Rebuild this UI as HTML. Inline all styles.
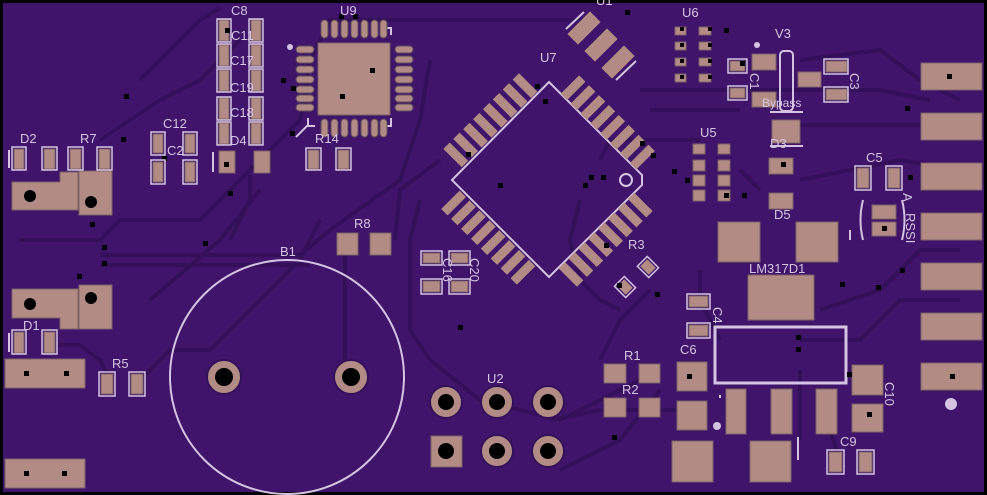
<!DOCTYPE html>
<html><head><meta charset="utf-8"><style>
html,body{margin:0;padding:0;background:#000}
svg{display:block}
text{font-family:"Liberation Sans",sans-serif;font-size:13px;fill:#d4c4e2}
</style></head><body>
<svg width="987" height="495" viewBox="0 0 987 495" xmlns="http://www.w3.org/2000/svg">
<rect x="0" y="0" width="987" height="495" fill="#000"/>
<rect x="3" y="3" width="981" height="489" fill="#40146a"/>
<g fill="none" stroke="#35105a" stroke-width="4">
<path d="M20 240 L100 240 L120 220 L200 220 L260 160 L300 120 L310 60 L330 20 L600 20"/>
<path d="M100 255 L300 255 L330 230 L400 180 L420 120 L430 60"/>
<path d="M100 265 L310 265"/>
<path d="M140 80 L200 20 L220 8"/>
<path d="M100 140 L160 100 L200 80 L240 40"/>
<path d="M150 300 L220 240 L260 190"/>
<path d="M58 345 L80 345 L100 360 L110 380"/>
<path d="M140 380 L170 350 L210 350 L300 260 L320 220"/>
<path d="M345 255 L345 370"/>
<path d="M420 200 L410 240 L410 330 L430 360 L480 400 L560 420 L600 400 L640 380"/>
<path d="M440 160 L400 190 L395 240"/>
<path d="M580 200 L570 240 L580 280 L600 300 L620 310"/>
<path d="M600 160 L610 140 L700 140"/>
<path d="M640 90 L700 90 L760 90 L880 90 L930 100"/>
<path d="M650 110 L740 110"/>
<path d="M800 60 L880 50 L920 80 L960 100"/>
<path d="M800 125 L960 125"/>
<path d="M800 180 L900 160 L960 170"/>
<path d="M740 170 L760 190"/>
<path d="M820 310 L880 290 L920 250 L960 250"/>
<path d="M800 340 L860 340 L900 300 L960 300"/>
<path d="M650 290 L620 320 L600 360"/>
<path d="M550 420 L600 410 L680 410"/>
<path d="M660 390 L620 440 L560 470"/>
<path d="M800 370 L800 440"/>
<path d="M830 430 L840 460"/>
<path d="M720 340 L700 300 L700 270"/>
<path d="M250 175 L250 200 L230 240"/>
</g>
<g fill="none" stroke="#d4c4e2" stroke-width="2">
<circle cx="287" cy="377" r="117"/>
<path d="M549 82 L642 175 L642 185 L549 277 L452 180 Z"/>
<circle cx="626" cy="180" r="6"/>
<rect x="715" y="327" width="131" height="56" stroke-width="3"/>
<rect x="780" y="51" width="13" height="60" rx="4"/>
<path d="M9 150 V168 M9 333 V352 M213 152 V172 M850 230 V240 M798 437 V460 M720 398 V395"/>
<path d="M296 137 L308 125" />
<path d="M566 29 L584 12 M616 80 L636 61"/>
<path d="M385 28 L391 28 L391 35 M308 118 L308 126 L315 126 M385 126 L391 126 L391 118"/>
<path d="M863 200 Q858 220 863 240 M902 200 Q907 220 902 240"/>
<path d="M770 112 L803 112 M770 146 L803 146"/>
</g>
<g fill="#b28c84" stroke="#7d5f66" stroke-width="1">
<rect x="14" y="149" width="10" height="20"/><rect x="44" y="149" width="11" height="20"/>
<rect x="70" y="149" width="11" height="20"/><rect x="99" y="149" width="11" height="20"/>
<path d="M12 182 H60 V172 H78 V210 H12 Z"/><rect x="79" y="171" width="33" height="44"/>
<path d="M12 289 H78 V329 H60 V318 H12 Z"/><rect x="79" y="285" width="33" height="44"/>
<rect x="14" y="332" width="10" height="21"/><rect x="44" y="332" width="11" height="21"/>
<rect x="5" y="359" width="80" height="29"/><rect x="5" y="459" width="80" height="29"/>
<rect x="101" y="374" width="12" height="20"/><rect x="131" y="374" width="12" height="20"/>
<rect x="153" y="134" width="10" height="19"/><rect x="185" y="134" width="10" height="19"/>
<rect x="153" y="162" width="10" height="20"/><rect x="185" y="162" width="10" height="20"/>
<rect x="219" y="20" width="10" height="21"/><rect x="251" y="20" width="10" height="21"/>
<rect x="219" y="45" width="10" height="21"/><rect x="251" y="45" width="10" height="21"/>
<rect x="219" y="70" width="10" height="21"/><rect x="251" y="70" width="10" height="21"/>
<rect x="219" y="98" width="10" height="21"/><rect x="251" y="98" width="10" height="21"/>
<rect x="219" y="123" width="10" height="21"/><rect x="251" y="123" width="10" height="21"/>
<rect x="219" y="151" width="16" height="22"/><rect x="254" y="151" width="16" height="22"/>
<rect x="318" y="43" width="72" height="72"/>
<rect x="308" y="150" width="11" height="19"/><rect x="338" y="150" width="11" height="19"/>
<rect x="337" y="233" width="21" height="22"/><rect x="370" y="233" width="21" height="22"/>
<rect x="423" y="253" width="17" height="10"/><rect x="451" y="253" width="17" height="10"/>
<rect x="423" y="281" width="17" height="11"/><rect x="451" y="281" width="17" height="11"/>
<rect x="675" y="27" width="11" height="8"/><rect x="699" y="27" width="12" height="8"/>
<rect x="675" y="42" width="11" height="8"/><rect x="699" y="42" width="12" height="8"/>
<rect x="675" y="58" width="11" height="8"/><rect x="699" y="58" width="12" height="8"/>
<rect x="675" y="74" width="11" height="8"/><rect x="699" y="74" width="12" height="8"/>
<rect x="693" y="144" width="12" height="10"/><rect x="718" y="144" width="12" height="10"/>
<rect x="693" y="160" width="12" height="11"/><rect x="718" y="160" width="12" height="11"/>
<rect x="693" y="175" width="12" height="11"/><rect x="718" y="175" width="12" height="11"/>
<rect x="693" y="190" width="12" height="11"/><rect x="718" y="190" width="12" height="11"/>
<rect x="730" y="61" width="15" height="10"/><rect x="730" y="88" width="15" height="10"/>
<rect x="752" y="54" width="24" height="16"/><rect x="752" y="92" width="24" height="15"/>
<rect x="798" y="72" width="23" height="15"/>
<rect x="826" y="61" width="21" height="11"/><rect x="826" y="89" width="21" height="11"/>
<rect x="772" y="120" width="28" height="23"/>
<rect x="769" y="158" width="24" height="16"/><rect x="769" y="193" width="24" height="16"/>
<rect x="857" y="168" width="12" height="20"/><rect x="888" y="168" width="12" height="20"/>
<rect x="872" y="205" width="24" height="14"/><rect x="872" y="222" width="24" height="14"/>
<rect x="921" y="63" width="61" height="27"/><rect x="921" y="113" width="61" height="27"/>
<rect x="921" y="163" width="61" height="27"/><rect x="921" y="213" width="61" height="27"/>
<rect x="921" y="263" width="61" height="27"/><rect x="921" y="313" width="61" height="27"/>
<rect x="921" y="363" width="61" height="27"/>
<rect x="718" y="222" width="42" height="40"/><rect x="796" y="222" width="42" height="40"/>
<rect x="748" y="275" width="66" height="45"/>
<rect x="689" y="296" width="19" height="11"/><rect x="689" y="325" width="19" height="11"/>
<rect x="677" y="362" width="30" height="29"/><rect x="677" y="401" width="30" height="29"/>
<rect x="604" y="364" width="22" height="19"/><rect x="639" y="364" width="21" height="19"/>
<rect x="604" y="398" width="22" height="19"/><rect x="639" y="398" width="21" height="19"/>
<rect x="726" y="389" width="20" height="45"/><rect x="771" y="389" width="21" height="45"/>
<rect x="816" y="389" width="21" height="45"/>
<rect x="852" y="365" width="31" height="30"/><rect x="852" y="404" width="31" height="28"/>
<rect x="672" y="441" width="41" height="41"/><rect x="750" y="441" width="41" height="41"/>
<rect x="829" y="452" width="13" height="20"/><rect x="859" y="452" width="13" height="20"/>
<rect x="431" y="436" width="31" height="31"/>
</g>
<g fill="#b28c84" stroke="#5e4d5e" stroke-width="1">
<rect x="296" y="46" width="18" height="7" rx="3.5"/><rect x="296" y="56" width="18" height="7" rx="3.5"/>
<rect x="296" y="66" width="18" height="7" rx="3.5"/><rect x="296" y="76" width="18" height="7" rx="3.5"/>
<rect x="296" y="86" width="18" height="7" rx="3.5"/><rect x="296" y="95" width="18" height="7" rx="3.5"/>
<rect x="296" y="104" width="18" height="7" rx="3.5"/>
<rect x="395" y="46" width="18" height="7" rx="3.5"/><rect x="395" y="56" width="18" height="7" rx="3.5"/>
<rect x="395" y="66" width="18" height="7" rx="3.5"/><rect x="395" y="76" width="18" height="7" rx="3.5"/>
<rect x="395" y="86" width="18" height="7" rx="3.5"/><rect x="395" y="95" width="18" height="7" rx="3.5"/>
<rect x="395" y="104" width="18" height="7" rx="3.5"/>
<rect x="321" y="20" width="7" height="18" rx="3.5"/><rect x="331" y="20" width="7" height="18" rx="3.5"/>
<rect x="341" y="20" width="7" height="18" rx="3.5"/><rect x="351" y="20" width="7" height="18" rx="3.5"/>
<rect x="361" y="20" width="7" height="18" rx="3.5"/><rect x="371" y="20" width="7" height="18" rx="3.5"/>
<rect x="380" y="20" width="7" height="18" rx="3.5"/>
<rect x="321" y="119" width="7" height="18" rx="3.5"/><rect x="331" y="119" width="7" height="18" rx="3.5"/>
<rect x="341" y="119" width="7" height="18" rx="3.5"/><rect x="351" y="119" width="7" height="18" rx="3.5"/>
<rect x="361" y="119" width="7" height="18" rx="3.5"/><rect x="371" y="119" width="7" height="18" rx="3.5"/>
<rect x="380" y="119" width="7" height="18" rx="3.5"/>
</g>
<g transform="translate(548,180) rotate(45)" fill="#b28c84">
<g id="side">
<rect x="-52" y="-96" width="9" height="26"/><rect x="-38" y="-96" width="9" height="26"/>
<rect x="-24" y="-96" width="9" height="26"/><rect x="-10" y="-96" width="9" height="26"/>
<rect x="4" y="-96" width="9" height="26"/><rect x="18" y="-96" width="9" height="26"/>
<rect x="32" y="-96" width="9" height="26"/><rect x="46" y="-96" width="9" height="26"/>
</g>
<use href="#side" transform="rotate(90)"/>
<use href="#side" transform="rotate(180)"/>
<use href="#side" transform="rotate(270)"/>
</g>
<g fill="#b28c84">
<rect x="-7.5" y="-16" width="15" height="32" transform="translate(584,28) rotate(45)"/>
<rect x="-7.5" y="-16" width="15" height="32" transform="translate(601,45) rotate(45)"/>
<rect x="-7.5" y="-16" width="15" height="32" transform="translate(618,62) rotate(45)"/>
<rect x="-6" y="-5" width="12" height="10" transform="translate(648,267) rotate(45)"/>
<rect x="-6" y="-5" width="12" height="10" transform="translate(625,287) rotate(45)"/>
</g>
<g fill="none" stroke="#d4c4e2" stroke-width="1.5">
<rect x="-8" y="-7" width="16" height="14" transform="translate(648,267) rotate(45)"/>
<rect x="-8" y="-7" width="16" height="14" transform="translate(625,287) rotate(45)"/>
</g>
<g fill="#b28c84" stroke="#35105a" stroke-width="2">
<circle cx="224" cy="377" r="17"/><circle cx="351" cy="377" r="17"/>
<circle cx="446" cy="402" r="16"/><circle cx="497" cy="402" r="16"/><circle cx="548" cy="402" r="16"/>
<circle cx="497" cy="451" r="16"/><circle cx="548" cy="451" r="16"/>
</g>
<g fill="#000">
<circle cx="224" cy="377" r="9"/><circle cx="351" cy="377" r="9"/>
<circle cx="446" cy="402" r="8"/><circle cx="497" cy="402" r="8"/><circle cx="548" cy="402" r="8"/>
<circle cx="446" cy="451" r="8"/><circle cx="497" cy="451" r="8"/><circle cx="548" cy="451" r="8"/>
<circle cx="30" cy="196" r="6"/><circle cx="91" cy="202" r="6"/>
<circle cx="30" cy="304" r="6"/><circle cx="91" cy="298" r="6"/>
<rect x="124" y="94" width="5" height="5"/><rect x="121" y="137" width="5" height="5"/>
<rect x="162" y="156" width="5" height="5"/><rect x="225" y="28" width="5" height="5"/>
<rect x="224" y="162" width="5" height="5"/><rect x="228" y="191" width="5" height="5"/>
<rect x="90" y="222" width="5" height="5"/><rect x="102" y="245" width="5" height="5"/>
<rect x="102" y="261" width="5" height="5"/><rect x="77" y="274" width="5" height="5"/>
<rect x="203" y="241" width="5" height="5"/><rect x="290" y="131" width="5" height="5"/>
<rect x="281" y="78" width="5" height="5"/><rect x="291" y="86" width="5" height="5"/>
<rect x="340" y="94" width="5" height="5"/><rect x="370" y="68" width="5" height="5"/>
<rect x="339" y="14" width="5" height="5"/><rect x="353" y="14" width="5" height="5"/>
<rect x="24" y="371" width="5" height="5"/><rect x="64" y="371" width="5" height="5"/>
<rect x="24" y="471" width="5" height="5"/><rect x="62" y="471" width="5" height="5"/>
<rect x="458" y="325" width="5" height="5"/><rect x="543" y="99" width="5" height="5"/>
<rect x="498" y="183" width="5" height="5"/><rect x="466" y="152" width="5" height="5"/>
<rect x="535" y="84" width="5" height="5"/><rect x="617" y="283" width="5" height="5"/>
<rect x="583" y="183" width="5" height="5"/><rect x="589" y="175" width="5" height="5"/>
<rect x="601" y="175" width="5" height="5"/><rect x="604" y="243" width="5" height="5"/>
<rect x="640" y="141" width="5" height="5"/><rect x="651" y="153" width="5" height="5"/>
<rect x="655" y="292" width="5" height="5"/><rect x="672" y="169" width="5" height="5"/>
<rect x="685" y="178" width="5" height="5"/><rect x="724" y="28" width="5" height="5"/>
<rect x="740" y="61" width="5" height="5"/><rect x="742" y="193" width="5" height="5"/>
<rect x="680" y="27" width="4" height="4"/><rect x="680" y="43" width="4" height="4"/>
<rect x="680" y="59" width="4" height="4"/><rect x="680" y="75" width="4" height="4"/>
<rect x="708" y="27" width="4" height="4"/><rect x="708" y="43" width="4" height="4"/>
<rect x="708" y="59" width="4" height="4"/><rect x="708" y="75" width="4" height="4"/>
<rect x="724" y="193" width="5" height="5"/><rect x="781" y="162" width="5" height="5"/>
<rect x="905" y="106" width="5" height="5"/><rect x="908" y="175" width="5" height="5"/>
<rect x="947" y="74" width="5" height="5"/><rect x="882" y="226" width="5" height="5"/>
<rect x="900" y="268" width="5" height="5"/><rect x="840" y="282" width="5" height="5"/>
<rect x="876" y="285" width="5" height="5"/><rect x="796" y="335" width="5" height="5"/>
<rect x="796" y="347" width="5" height="5"/><rect x="847" y="372" width="5" height="5"/>
<rect x="687" y="374" width="5" height="5"/><rect x="867" y="412" width="5" height="5"/>
<rect x="950" y="374" width="5" height="5"/><rect x="612" y="435" width="5" height="5"/>
<rect x="625" y="10" width="5" height="5"/>
</g>
<g fill="#d4c4e2"><circle cx="951" cy="404" r="6"/><circle cx="717" cy="426" r="4"/><circle cx="290" cy="47" r="3"/><circle cx="757" cy="45" r="3"/></g>
<g fill="none" stroke="#d4c4e2" stroke-width="1.5">
<rect x="12" y="147" width="14" height="23"/><rect x="42" y="147" width="15" height="23"/>
<rect x="68" y="147" width="15" height="23"/><rect x="97" y="147" width="15" height="23"/>
<rect x="12" y="330" width="14" height="24"/><rect x="42" y="330" width="15" height="24"/>
<rect x="99" y="372" width="16" height="24"/><rect x="129" y="372" width="16" height="24"/>
<rect x="151" y="132" width="14" height="23"/><rect x="183" y="132" width="14" height="23"/>
<rect x="151" y="160" width="14" height="24"/><rect x="183" y="160" width="14" height="24"/>
<rect x="217" y="19" width="14" height="23"/><rect x="249" y="19" width="14" height="23"/>
<rect x="217" y="44" width="14" height="23"/><rect x="249" y="44" width="14" height="23"/>
<rect x="217" y="69" width="14" height="23"/><rect x="249" y="69" width="14" height="23"/>
<rect x="217" y="97" width="14" height="23"/><rect x="249" y="97" width="14" height="23"/>
<rect x="217" y="122" width="14" height="23"/><rect x="249" y="122" width="14" height="23"/>
<rect x="306" y="148" width="15" height="22"/><rect x="336" y="148" width="15" height="22"/>
<rect x="421" y="251" width="21" height="14"/><rect x="449" y="251" width="21" height="14"/>
<rect x="421" y="279" width="21" height="15"/><rect x="449" y="279" width="21" height="15"/>
<rect x="728" y="59" width="19" height="14"/><rect x="728" y="86" width="19" height="14"/>
<rect x="824" y="59" width="24" height="15"/><rect x="824" y="87" width="24" height="15"/>
<rect x="855" y="166" width="16" height="24"/><rect x="886" y="166" width="16" height="24"/>
<rect x="687" y="294" width="23" height="15"/><rect x="687" y="323" width="23" height="15"/>
<rect x="827" y="450" width="17" height="24"/><rect x="857" y="450" width="17" height="24"/>
</g>
<text x="20" y="143">D2</text><text x="80" y="143">R7</text>
<text x="23" y="330">D1</text><text x="112" y="368">R5</text>
<text x="163" y="128">C12</text><text x="167" y="155">C2</text>
<text x="231" y="15">C8</text><text x="231" y="40">C11</text><text x="230" y="65">C17</text>
<text x="230" y="92">C19</text><text x="230" y="117">C18</text><text x="230" y="145">D4</text>
<text x="340" y="15">U9</text><text x="315" y="143">R14</text>
<text x="354" y="228">R8</text><text x="280" y="256">B1</text>
<text x="540" y="62">U7</text><text x="487" y="383">U2</text>
<text x="596" y="5">U1</text>
<text x="628" y="249">R3</text><text x="682" y="17">U6</text>
<text x="775" y="38">V3</text><text x="700" y="137">U5</text>
<text x="770" y="148">D3</text><text x="774" y="219">D5</text>
<text x="866" y="162">C5</text><text x="762" y="107" style="font-size:12px">Bypass</text>
<text x="749" y="273">LM317D1</text>
<text x="624" y="360">R1</text><text x="622" y="394">R2</text>
<text x="680" y="354">C6</text><text x="840" y="446">C9</text>
<text transform="translate(750,73) rotate(90)">C1</text>
<text transform="translate(850,73) rotate(90)">C3</text>
<text transform="translate(713,307) rotate(90)">C4</text>
<text transform="translate(885,382) rotate(90)">C10</text>
<text transform="translate(470,258) rotate(90)">C20</text>
<text transform="translate(443,258) rotate(90)">C16</text>
<text transform="translate(903,193) rotate(90)">A</text>
<text transform="translate(906,213) rotate(90)">RSSI</text>
</svg>
</body></html>
